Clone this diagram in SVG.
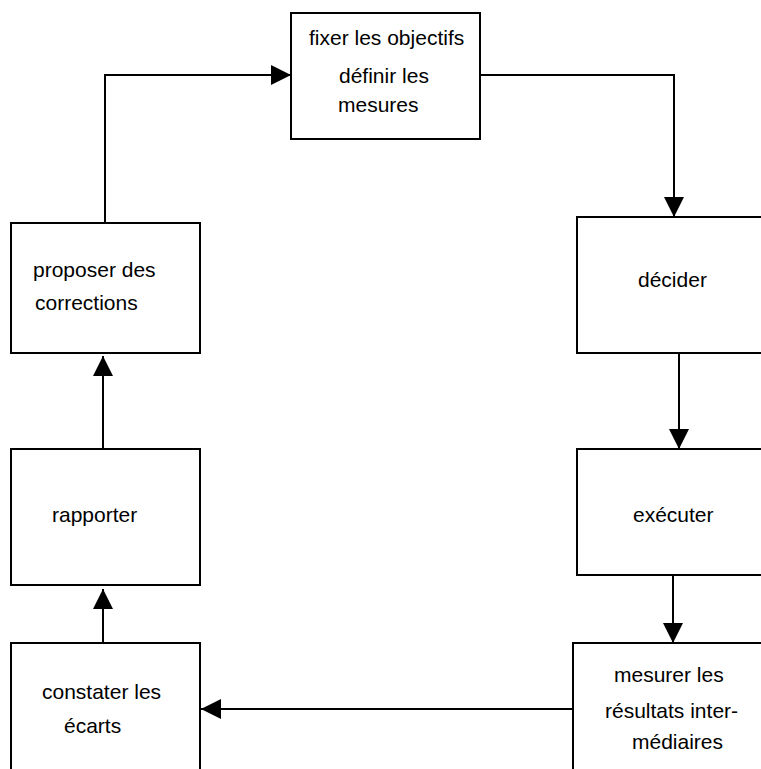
<svg xmlns="http://www.w3.org/2000/svg" width="761" height="769" viewBox="0 0 761 769">
<style>
.box{fill:#fff;stroke:#000;stroke-width:2}
.lbl{font-family:"Liberation Sans",Arial,sans-serif;font-size:21px;fill:#000}
.con{fill:none;stroke:#000;stroke-width:2}
</style>
<defs>
<marker id="ah" markerUnits="userSpaceOnUse" viewBox="0 0 20 20" markerWidth="20" markerHeight="20" refX="20" refY="10" orient="auto">
<path d="M0,0 L20,10 L0,20 z" fill="#000"/>
</marker>
</defs>
<rect width="761" height="769" fill="#fff"/>
<g id="connectors">
<path class="con" d="M480,75 H674 V217" marker-end="url(#ah)"/>
<path class="con" d="M679,353 V449" marker-end="url(#ah)"/>
<path class="con" d="M673,575 V643" marker-end="url(#ah)"/>
<path class="con" d="M573,709 H201" marker-end="url(#ah)"/>
<path class="con" d="M103,643 V589" marker-end="url(#ah)"/>
<path class="con" d="M103,449 V356" marker-end="url(#ah)"/>
<path class="con" d="M105,223 V75 H291" marker-end="url(#ah)"/>
</g>
<g id="fixer">
<rect class="box" x="291" y="13" width="189" height="126"/>
<text class="lbl" x="309" y="45">fixer les objectifs</text>
<text class="lbl" x="339" y="83">définir les</text>
<text class="lbl" x="338" y="112">mesures</text>
</g>
<g id="decider">
<rect class="box" x="577" y="217" width="220" height="136"/>
<text class="lbl" x="638" y="287">décider</text>
</g>
<g id="executer">
<rect class="box" x="577" y="449" width="220" height="126"/>
<text class="lbl" x="633" y="522">exécuter</text>
</g>
<g id="mesurer">
<rect class="box" x="573" y="643" width="220" height="160"/>
<text class="lbl" x="614" y="682">mesurer les</text>
<text class="lbl" x="605" y="718">résultats inter-</text>
<text class="lbl" x="632" y="749">médiaires</text>
</g>
<g id="constater">
<rect class="box" x="11" y="643" width="189" height="160"/>
<text class="lbl" x="42" y="699">constater les</text>
<text class="lbl" x="64" y="733">écarts</text>
</g>
<g id="rapporter">
<rect class="box" x="11" y="449" width="189" height="136"/>
<text class="lbl" x="52" y="522">rapporter</text>
</g>
<g id="proposer">
<rect class="box" x="11" y="223" width="189" height="130"/>
<text class="lbl" x="33" y="277">proposer des</text>
<text class="lbl" x="35" y="310">corrections</text>
</g>
</svg>
